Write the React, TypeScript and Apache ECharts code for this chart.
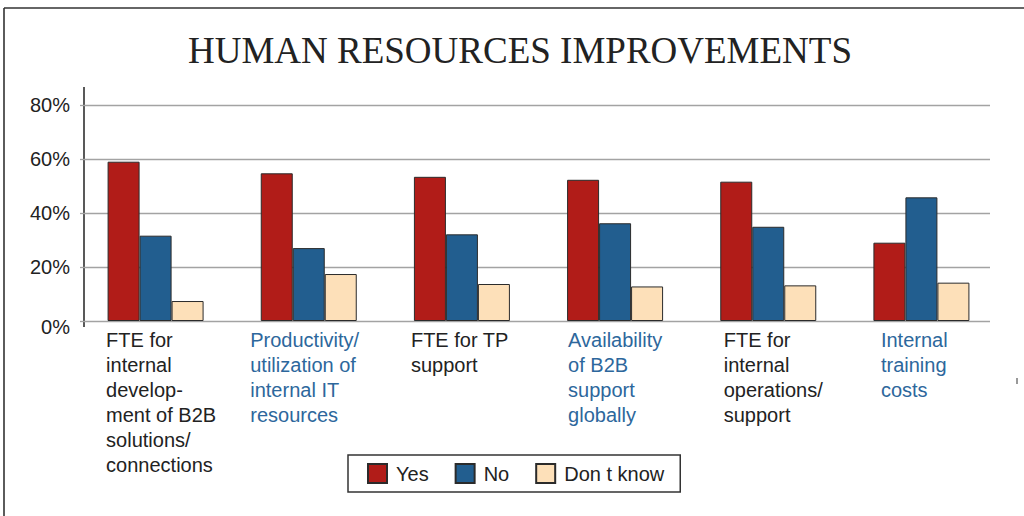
import React, { useEffect, useRef } from "react";
import * as echarts from "echarts";

const categories = [
  "FTE for\ninternal\ndevelop-\nment of B2B\nsolutions/\nconnections",
  "Productivity/\nutilization of\ninternal IT\nresources",
  "FTE for TP\nsupport",
  "Availability\nof B2B\nsupport\nglobally",
  "FTE for\ninternal\noperations/\nsupport",
  "Internal\ntraining\ncosts",
];
const seriesNames = ["Yes", "No", "Don t know"];
const yesValues = [59, 54.7, 53.4, 52.3, 51.6, 29];
const noValues = [31.6, 27, 32.1, 36.2, 34.9, 45.8];
const dontKnowValues = [7.4, 17.4, 13.7, 12.8, 13.2, 14.2];
const yMin = 0;
const yMax = 80;
const yInterval = 20;
const titleText = "HUMAN RESOURCES IMPROVEMENTS";

// layout: width of each category label block (text is left-aligned inside it)
const labelBlockWidths = [99, 117, 102, 94, 89, 81];

const FONT = "'Liberation Sans Narrow', 'Liberation Sans', Arial, sans-serif";
const DARK = "#222222";
const BLUE_TEXT = "#2d679c";
const GRID_GRAY = "#a3a3a3";
const EDGE = "#2b2b2b";

export default function App() {
  const ref = useRef<HTMLDivElement>(null);
  useEffect(() => {
    if (!ref.current) return;
    const chart = echarts.init(ref.current, undefined, { renderer: "svg" });
    const rich: Record<string, any> = {};
    labelBlockWidths.forEach((w, i) => {
      rich["c" + i] = {
        color: i % 2 ? BLUE_TEXT : DARK,
        width: w,
        align: "left",
        fontSize: 20,
        lineHeight: 25,
        fontFamily: FONT,
      };
    });
    const mkBar = (name: string, data: number[], color: string) => ({
      name,
      type: "bar",
      xAxisIndex: 1,
      yAxisIndex: 1,
      data,
      barWidth: 32,
      barGap: "0%",
      itemStyle: { color, borderColor: EDGE, borderWidth: 1 },
    });
    chart.setOption({
      animation: false,
      backgroundColor: "#ffffff",
      textStyle: { fontFamily: FONT },
      grid: [
        { left: 84, right: 34, top: 105, height: 216 },
        { left: 79, right: 26, top: 105, height: 216 },
      ],
      xAxis: [
        { gridIndex: 0, type: "value", min: 0, max: 1, show: false },
        {
          gridIndex: 1,
          type: "category",
          data: categories,
          axisLine: { show: false },
          axisTick: { show: false },
          axisLabel: {
            interval: 0,
            margin: 6,
            align: "center",
            verticalAlign: "top",
            formatter: (value: string, index: number) =>
              value
                .split("\n")
                .map((l) => `{c${index}|${l}}`)
                .join("\n"),
            rich,
          },
        },
      ],
      yAxis: [
        {
          gridIndex: 0,
          type: "value",
          min: yMin,
          max: yMax,
          interval: yInterval,
          axisLine: { show: false },
          axisTick: { show: true, length: 4, lineStyle: { color: GRID_GRAY, width: 1.3 } },
          axisLabel: {
            formatter: (v: number) => (v === 0 ? `{z|${v}%}` : `${v}%`),
            margin: 14,
            fontSize: 20,
            color: DARK,
            fontFamily: FONT,
            rich: {
              z: { fontSize: 20, color: DARK, fontFamily: FONT, padding: [12, 0, 0, 0] },
            },
          },
          splitLine: { show: true, lineStyle: { color: GRID_GRAY, width: 1.3 } },
        },
        { gridIndex: 1, type: "value", min: yMin, max: yMax, show: false },
      ],
      legend: {
        data: seriesNames,
        left: 348,
        top: 455,
        orient: "horizontal",
        padding: [8, 16, 8, 19],
        itemGap: 26,
        itemWidth: 19,
        itemHeight: 19,
        borderColor: "#333333",
        borderWidth: 1.5,
        icon: "rect",
        textStyle: { fontSize: 20, color: DARK, fontFamily: FONT, padding: [0, 0, 0, 4] },
        selectedMode: false,
      },
      series: [
        mkBar(seriesNames[0], yesValues, "#b11c18"),
        mkBar(seriesNames[1], noValues, "#225e8f"),
        mkBar(seriesNames[2], dontKnowValues, "#fde0b9"),
      ],
      graphic: [
        {
          type: "text",
          x: 520,
          y: 50,
          style: {
            text: titleText,
            fontFamily: "'Liberation Serif', 'DejaVu Serif', serif",
            fontSize: 37,
            fill: DARK,
            align: "center",
            verticalAlign: "middle",
          },
        },
        { type: "line", shape: { x1: 84, y1: 87, x2: 84, y2: 327 }, style: { stroke: DARK, lineWidth: 1.5 } },
        { type: "line", shape: { x1: 4, y1: 8, x2: 1024, y2: 8 }, style: { stroke: "#333333", lineWidth: 1.6 } },
        { type: "line", shape: { x1: 4, y1: 8, x2: 4, y2: 516 }, style: { stroke: "#333333", lineWidth: 1.6 } },
        { type: "line", shape: { x1: 1017, y1: 378, x2: 1017, y2: 384 }, style: { stroke: "#555555", lineWidth: 1.2 } },
      ],
    });
    return () => chart.dispose();
  }, []);
  return (
    <div
      ref={ref}
      style={{ position: "fixed", left: 0, top: 0, width: 1024, height: 516, background: "#fff" }}
    />
  );
}
